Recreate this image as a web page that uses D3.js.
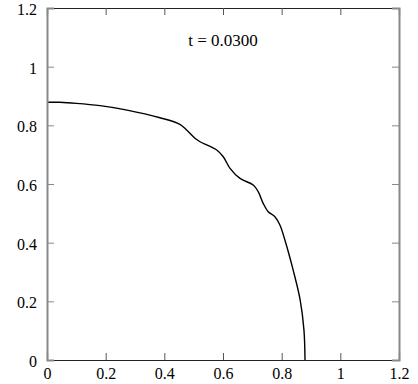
<!DOCTYPE html>
<html>
<head>
<meta charset="utf-8">
<script src="https://cdn.jsdelivr.net/npm/d3@7"></script>
<style>
  body { margin: 0; background: #fff; }
  svg { display: block; }
  text { font-family: "Liberation Serif", "Times New Roman", "DejaVu Serif", serif; fill: #000; }
</style>
</head>
<body>
<div id="grafik"></div>
<script>
const genislik = 418;
const yukseklik = 384;

// eksen degerleri
const xTikler = [0, 0.2, 0.4, 0.6, 0.8, 1, 1.2];
const yTikler = [0, 0.2, 0.4, 0.6, 0.8, 1, 1.2];
const baslik = "t = 0.0300";

// sinir egrisi (resimden okunan noktalar)
const sinirX = [0, 0.044, 0.10, 0.181, 0.273, 0.385, 0.453, 0.476, 0.5045, 0.5216, 0.5785, 0.601, 0.624, 0.658, 0.703, 0.720, 0.737, 0.754, 0.777, 0.794, 0.811, 0.839, 0.863, 0.876, 0.8796];
const sinirY = [0.8785, 0.8785, 0.875, 0.867, 0.852, 0.826, 0.8035, 0.784, 0.756, 0.744, 0.716, 0.693, 0.6535, 0.619, 0.5966, 0.574, 0.534, 0.5056, 0.4885, 0.460, 0.409, 0.307, 0.205, 0.102, 0];

const kenar = { sol: 47, sag: 19, ust: 8, alt: 24 };
const yaziTipi = "'Liberation Serif', 'Times New Roman', 'DejaVu Serif', serif";

const svg = d3.select("#grafik")
  .append("svg")
  .attr("width", genislik)
  .attr("height", yukseklik);

const x = d3.scaleLinear().domain([0, 1.2]).range([kenar.sol, genislik - kenar.sag]);
const y = d3.scaleLinear().domain([0, 1.2]).range([yukseklik - kenar.alt, kenar.ust]);

// egri
const noktalar = sinirX.map((v, i) => [v, sinirY[i]]);
const cizgi = d3.line()
  .x(d => x(d[0]))
  .y(d => y(d[1]))
  .curve(d3.curveCatmullRom.alpha(0.5));

svg.append("path")
  .datum(noktalar)
  .attr("d", cizgi)
  .attr("fill", "none")
  .attr("stroke", "#000")
  .attr("stroke-width", 1.4);

// eksenler
const tikBoy = 7;
const alt = svg.append("g").attr("transform", `translate(0,${y(0)})`)
  .call(d3.axisBottom(x).tickValues(xTikler).tickSize(-tikBoy).tickPadding(8).tickFormat(d3.format("")));
const ust = svg.append("g").attr("transform", `translate(0,${y(1.2)})`)
  .call(d3.axisTop(x).tickValues(xTikler).tickSize(-tikBoy).tickFormat(""));
const sol = svg.append("g").attr("transform", `translate(${x(0)},0)`)
  .call(d3.axisLeft(y).tickValues(yTikler).tickSize(-tikBoy).tickPadding(10).tickFormat(d3.format("")));
const sag = svg.append("g").attr("transform", `translate(${x(1.2)},0)`)
  .call(d3.axisRight(y).tickValues(yTikler).tickSize(-tikBoy).tickFormat(""));

[alt, ust].forEach(g => {
  g.select(".domain").attr("stroke", "#222").attr("stroke-width", 1.2);
  g.selectAll(".tick line").attr("stroke", "#555");
});
[sol, sag].forEach(g => {
  g.select(".domain").attr("stroke", "#888").attr("stroke-width", 2);
  g.selectAll(".tick line").attr("stroke", "#888");
});
svg.selectAll("g").attr("font-family", yaziTipi);
svg.selectAll(".tick text")
  .style("font-family", yaziTipi)
  .style("font-size", "16px")
  .attr("fill", "#000");
sol.selectAll(".tick text").attr("dy", "0.4em");

// baslik
svg.append("text")
  .attr("x", x(0.6))
  .attr("y", 46)
  .attr("text-anchor", "middle")
  .style("font-family", yaziTipi)
  .style("font-size", "17px")
  .text(baslik);
</script>
</body>
</html>
